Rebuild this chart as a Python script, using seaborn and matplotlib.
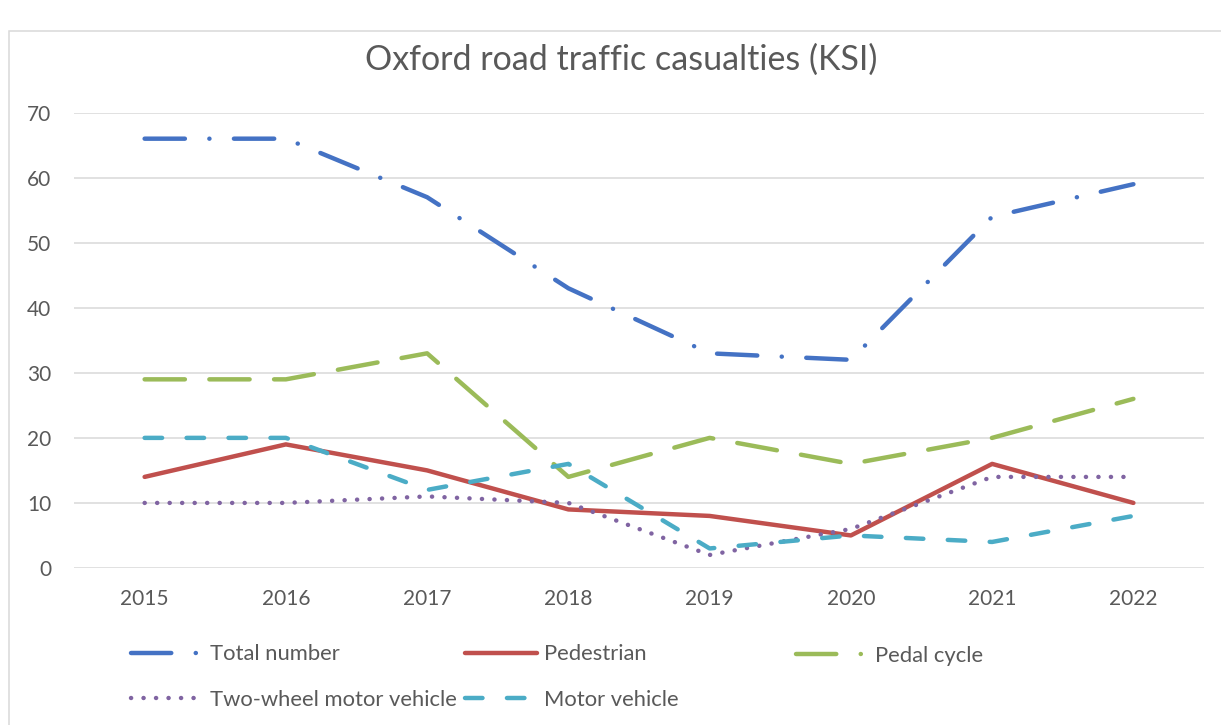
import matplotlib
matplotlib.use("Agg")
import matplotlib.pyplot as plt
import seaborn as sns
from matplotlib.lines import Line2D
from matplotlib.patches import Rectangle

# Data
years = [2015, 2016, 2017, 2018, 2019, 2020, 2021, 2022]
total = [66, 66, 57, 43, 33, 32, 54, 59]
pedestrian = [14, 19, 15, 9, 8, 5, 16, 10]
pedal_cycle = [29, 29, 33, 14, 20, 16, 20, 26]
two_wheel = [10, 10, 11, 10, 2, 6, 14, 14]
motor_vehicle = [20, 20, 12, 16, 3, 5, 4, 8]
y_ticks = [0, 10, 20, 30, 40, 50, 60, 70]

sns.set_theme(style="white")
plt.rcParams["font.family"] = ["Lato", "DejaVu Sans"]
plt.rcParams["lines.scale_dashes"] = False

text_col = "#595959"
grid_col = "#D9D9D9"
lw = 3.2

# dash patterns in points (on, off, ...)
dash_dot = (29, 17.6, 0.1, 17.6)
long_dash = (29, 17.6)
short_dash = (12.6, 17.6)
dots = (0.1, 8.9)

series = [
    ("Total number", total, "#4472C4", dash_dot),
    ("Pedestrian", pedestrian, "#C0504D", None),
    ("Pedal cycle", pedal_cycle, "#9BBB59", long_dash),
    ("Two-wheel motor vehicle", two_wheel, "#8064A2", dots),
    ("Motor vehicle", motor_vehicle, "#4BACC6", short_dash),
]

fig = plt.figure(figsize=(12.21, 7.25), dpi=100)
ax = fig.add_axes([0.0606, 0.2166, 0.9255, 0.628])

handles = {}
for name, vals, col, dash in series:
    sns.lineplot(x=years, y=vals, color=col, linewidth=lw, ax=ax)
    line = ax.lines[-1]
    line.set_solid_capstyle("round")
    line.set_solid_joinstyle("round")
    line.set_dash_capstyle("round")
    if dash is not None:
        line.set_dashes(dash)
    # legend handle (Excel shows the pedal cycle key as dash-dot)
    hdash = dash_dot if name == "Pedal cycle" else dash
    h = Line2D([0], [0], color=col, linewidth=lw, solid_capstyle="round",
               dash_capstyle="round")
    if hdash is not None:
        h.set_dashes(hdash)
    handles[name] = h

ax.set_xlim(2014.5, 2022.5)
ax.set_ylim(0, 70)
ax.set_xticks(years)
ax.set_xticklabels([str(y) for y in years])
ax.set_yticks(y_ticks)
ax.grid(axis="y", color=grid_col, linewidth=1.1)
ax.grid(axis="x", visible=False)
ax.set_axisbelow(True)
for s in ax.spines.values():
    s.set_visible(False)
ax.tick_params(axis="both", length=0, labelsize=15, colors=text_col)
ax.tick_params(axis="y", pad=16.5)
ax.tick_params(axis="x", pad=15)
ax.set_xlabel("")
ax.set_ylabel("")

# Title
fig.text(0.509, 1 - 60 / 725, "Oxford road traffic casualties (KSI)",
         ha="center", va="center", fontsize=24.5, color=text_col)

# Chart area border
fig.patches.append(Rectangle((9 / 1221, -0.05), 1.2, 1 - 31 / 725 + 0.05,
                             transform=fig.transFigure, fill=False,
                             edgecolor=grid_col, linewidth=1.1))

# Legend, three columns like Excel
cols = [
    (131, ["Total number", "Two-wheel motor vehicle"], 677),
    (465, ["Pedestrian", "Motor vehicle"], 677),
    (796, ["Pedal cycle"], 655.5),
]
for x0, names, yc in cols:
    leg = fig.legend([handles[n] for n in names], names,
                     loc="center left", bbox_to_anchor=(x0 / 1221, 1 - yc / 725),
                     frameon=False, fontsize=15.8, handlelength=3.3,
                     handletextpad=0.3, labelspacing=1.15, borderpad=0,
                     borderaxespad=0)
    for t in leg.get_texts():
        t.set_color(text_col)

plt.savefig("out.png", dpi=100)
